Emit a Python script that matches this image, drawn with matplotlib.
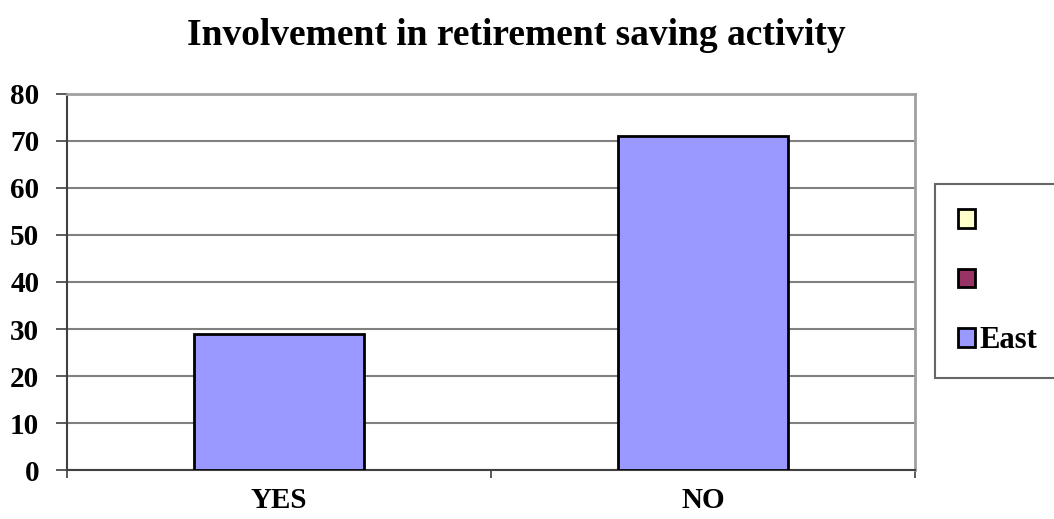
import numpy as np
import matplotlib.pyplot as plt
from matplotlib.patches import Patch

categories = ['YES', 'NO']
east = [29, 71]
legend_labels = ['', '', 'East']
legend_colors = ['#FFFFCC', '#993366', '#9999FF']
yticks = [0, 10, 20, 30, 40, 50, 60, 70, 80]

plt.rcParams['font.family'] = ['Liberation Serif', 'DejaVu Serif']
plt.rcParams['font.weight'] = 'bold'

fig = plt.figure(figsize=(10.54, 5.19), dpi=100)
ax = fig.add_axes([0.0636, 0.0944, 0.8045, 0.7245])

x = np.arange(len(categories))
ax.bar(x, east, width=0.4, color='#9999FF', edgecolor='black', linewidth=2, zorder=3)

ax.set_xlim(-0.5, 1.5)
ax.set_ylim(0, 80)
ax.set_yticks(yticks)
ax.set_yticklabels([str(v) for v in yticks], fontsize=21, fontweight='bold')
ax.yaxis.grid(True, color='#808080', linewidth=1.5, zorder=0)

# category labels centered, tick marks at category boundaries
ax.set_xticks([-0.5, 0.5, 1.5])
ax.set_xticklabels([])
ax.set_xticks(x, minor=True)
ax.set_xticklabels(categories, minor=True, fontsize=21, fontweight='bold')
ax.tick_params(axis='x', which='minor', length=0, pad=12)
ax.tick_params(axis='x', which='major', length=6, width=1.2, color='#404040')
ax.tick_params(axis='y', length=8, width=1.2, color='#404040', pad=12)

for s in ['left', 'bottom']:
    ax.spines[s].set_color('#404040')
    ax.spines[s].set_linewidth(1.5)
for s in ['top', 'right']:
    ax.spines[s].set_color('#A0A0A0')
    ax.spines[s].set_linewidth(2)

fig.suptitle('Involvement in retirement saving activity', fontsize=27,
             fontweight='bold', x=0.49, y=0.965)

handles = [Patch(facecolor=c, edgecolor='black', linewidth=2) for c in legend_colors]
leg = fig.legend(handles, legend_labels, loc='center left',
                 bbox_to_anchor=(0.887, 0.458), frameon=True, fancybox=False,
                 edgecolor='#404040', prop={'size': 22, 'weight': 'bold'},
                 handlelength=0.55, handleheight=0.55, handletextpad=0.15,
                 labelspacing=1.0, borderpad=0.75, borderaxespad=0)
leg.get_frame().set_linewidth(1.5)

fig.savefig('out.png', dpi=100)
